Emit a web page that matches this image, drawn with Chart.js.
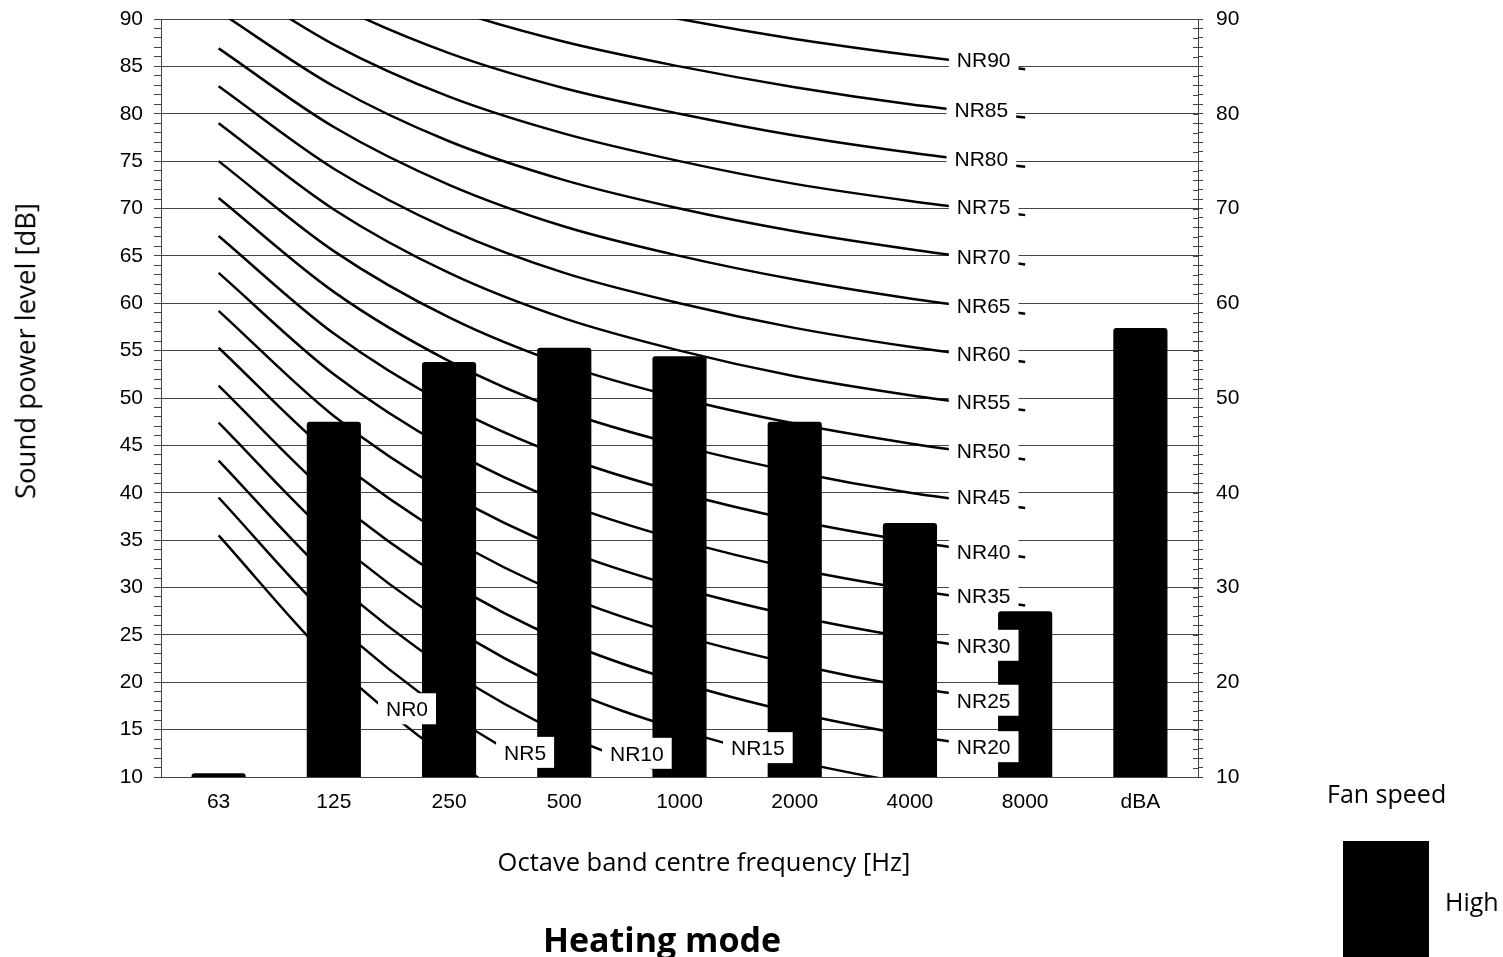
<!DOCTYPE html>
<html>
<head>
<meta charset="utf-8">
<script src="https://cdn.jsdelivr.net/npm/chart.js@4.4.1/dist/chart.umd.min.js"></script>
<style>
  html, body { margin: 0; padding: 0; background: #fff; }
  #wrap { position: relative; width: 1503px; height: 957px; overflow: hidden; }
  #chart { position: absolute; left: 0; top: 0; }
  .txt { position: absolute; font-family: "Open Sans", sans-serif; color: #000; white-space: nowrap; line-height: 1; }
</style>
</head>
<body>
<div id="wrap">
  <canvas id="chart" width="1503" height="957" style="width:1503px;height:957px"></canvas>
  <div class="txt" id="yTitle" style="left:25px;top:351px;font-size:27.5px;transform:translate(-50%,-50%) rotate(-90deg)">Sound power level [dB]</div>
  <div class="txt" id="xTitle" style="left:704px;top:862px;font-size:25.5px;transform:translate(-50%,-50%)">Octave band centre frequency [Hz]</div>
  <div class="txt" id="mode" style="left:662px;top:939px;font-size:34px;font-weight:700;transform:translate(-50%,-50%)">Heating mode</div>
  <div class="txt" style="left:1327px;top:793px;font-size:25px;transform:translateY(-50%)">Fan speed</div>
  <div style="position:absolute;left:1343px;top:841px;width:86px;height:116px;background:#000"></div>
  <div class="txt" style="left:1445px;top:901px;font-size:25px;transform:translateY(-50%)">High</div>
</div>
<script>
// octave bands + overall level
const categories = ['63', '125', '250', '500', '1000', '2000', '4000', '8000', 'dBA'];

// measured sound power, fan speed High
const soundPowerHigh = [10.4, 47.5, 53.8, 55.3, 54.4, 47.5, 36.8, 27.5, 57.4];

// NR rating curves (63 ... 8000 Hz)
const nr0  = [35.5, 22.0, 12.0, 4.8, 0, -3.5, -6.1, -8.0];
const nr5  = [39.5, 26.4, 16.7, 9.7, 5, 1.6, -1.0, -2.9];
const nr10 = [43.4, 30.7, 21.3, 14.5, 10, 6.7, 4.2, 2.3];
const nr15 = [47.4, 35.1, 26.0, 19.4, 15, 11.7, 9.3, 7.5];
const nr20 = [51.3, 39.4, 30.6, 24.3, 20, 16.8, 14.4, 12.6];
const nr25 = [55.3, 43.8, 35.3, 29.2, 25, 21.9, 19.5, 17.8];
const nr30 = [59.2, 48.1, 39.9, 34.0, 30, 27.0, 24.7, 22.9];
const nr35 = [63.2, 52.5, 44.6, 38.9, 35, 32.0, 29.8, 28.1];
const nr40 = [67.1, 56.8, 49.2, 43.8, 40, 37.1, 34.9, 33.2];
const nr45 = [71.1, 61.2, 53.9, 48.6, 45, 42.2, 40.0, 38.4];
const nr50 = [75.0, 65.5, 58.5, 53.5, 50, 47.3, 45.2, 43.5];
const nr55 = [79.0, 69.9, 63.2, 58.4, 55, 52.3, 50.3, 48.7];
const nr60 = [82.9, 74.2, 67.8, 63.2, 60, 57.4, 55.4, 53.8];
const nr65 = [86.9, 78.6, 72.5, 68.1, 65, 62.5, 60.5, 58.9];
const nr70 = [90.8, 82.9, 77.1, 73.0, 70, 67.6, 65.7, 64.1];
const nr75 = [94.8, 87.3, 81.8, 77.9, 75, 72.6, 70.8, 69.3];
const nr80 = [98.7, 91.6, 86.4, 82.7, 80, 77.7, 75.9, 74.4];
const nr85 = [102.7, 96.0, 91.1, 87.6, 85, 82.8, 81.0, 79.6];
const nr90 = [106.6, 100.3, 95.7, 92.5, 90, 87.9, 86.2, 84.7];

const nrLevels = [0, 5, 10, 15, 20, 25, 30, 35, 40, 45, 50, 55, 60, 65, 70, 75, 80, 85, 90];
const nrCurves = [nr0, nr5, nr10, nr15, nr20, nr25, nr30, nr35, nr40, nr45,
                  nr50, nr55, nr60, nr65, nr70, nr75, nr80, nr85, nr90];

// where each "NRxx" tag sits (category index, dB)
const nrLabelX = [1.635, 2.66, 3.63, 4.68, 6.64, 6.64, 6.64, 6.64, 6.64, 6.64,
                  6.64, 6.64, 6.64, 6.64, 6.64, 6.64, 6.62, 6.62, 6.64];
const nrLabelY = [17.2, 12.6, 12.5, 13.1, 13.2, 18.1, 23.9, 29.2, 33.8, 39.6,
                  44.5, 49.6, 54.7, 59.8, 64.9, 70.2, 75.3, 80.4, 85.7];

const FONT_FAMILY = '"Liberation Sans", Arial, sans-serif';
const X_TICK_FONT = { family: FONT_FAMILY, size: 21 };
// small lineHeight keeps the end labels from pushing the plot area down
const Y_TICK_FONT = { family: FONT_FAMILY, size: 21, lineHeight: 0.5 };
const AXIS_COLOR = '#444';

// white tagged NR names drawn on top of curves and bars
const nrTagPlugin = {
    id: 'nrTags',
    afterDatasetsDraw(chart) {
        const { ctx, scales: { x, y } } = chart;
        ctx.save();
        ctx.font = '21px ' + FONT_FAMILY;
        ctx.textAlign = 'center';
        ctx.textBaseline = 'alphabetic';
        nrLevels.forEach((n, i) => {
            const text = 'NR' + n;
            const px = x.getPixelForValue(nrLabelX[i]);
            const py = y.getPixelForValue(nrLabelY[i]);
            const w = ctx.measureText(text).width + 16;
            const h = 31;
            ctx.fillStyle = '#fff';
            ctx.fillRect(px - w / 2, py - h / 2, w, h);
            ctx.fillStyle = '#000';
            ctx.fillText(text, px, py + 7.5);
        });
        ctx.restore();
    }
};

// secondary axis ticks cross the axis line
const crossTickPlugin = {
    id: 'crossTicks',
    afterDraw(chart) {
        const { ctx, scales: { y2 } } = chart;
        const xr = chart.chartArea.right;
        ctx.save();
        ctx.strokeStyle = AXIS_COLOR;
        ctx.lineWidth = 1;
        ctx.beginPath();
        y2.ticks.forEach(t => {
            const py = Math.round(y2.getPixelForValue(t.value)) + 0.5;
            ctx.moveTo(xr - 5, py);
            ctx.lineTo(xr, py);
        });
        ctx.stroke();
        ctx.restore();
    }
};

const datasets = [{
    type: 'bar',
    label: 'High',
    data: soundPowerHigh,
    backgroundColor: '#000',
    borderRadius: 3,
    barPercentage: 0.47,
    categoryPercentage: 1,
    order: 0
}];

nrCurves.forEach((curve, i) => {
    datasets.push({
        type: 'line',
        label: 'NR' + nrLevels[i],
        data: curve,
        borderColor: '#000',
        borderWidth: 2.5,
        pointRadius: 0,
        fill: false,
        cubicInterpolationMode: 'monotone',
        clip: 0,
        order: 1
    });
});

new Chart(document.getElementById('chart'), {
    type: 'bar',
    data: { labels: categories, datasets },
    options: {
        responsive: false,
        animation: false,
        layout: { padding: { left: 0, right: 245, top: 19, bottom: 0 } },
        plugins: {
            legend: { display: false },
            tooltip: { enabled: false }
        },
        scales: {
            x: {
                grid: { display: false, drawTicks: false },
                border: { display: false },
                ticks: { color: '#000', font: X_TICK_FONT, padding: 13, maxRotation: 0 },
                afterFit(scale) { scale.height = 180; }
            },
            y: {
                position: 'left',
                min: 10,
                max: 90,
                ticks: {
                    stepSize: 1,
                    autoSkip: false,
                    color: '#000',
                    font: Y_TICK_FONT,
                    padding: 11,
                    callback: v => (v % 5 === 0 ? v : '')
                },
                grid: {
                    color: ctx => (ctx.tick && ctx.tick.value % 5 === 0 ? AXIS_COLOR : 'rgba(0,0,0,0)'),
                    tickColor: AXIS_COLOR,
                    tickLength: 7,
                    lineWidth: 1
                },
                border: { display: true, color: AXIS_COLOR, width: 1 },
                afterFit(scale) { scale.width = 161; }
            },
            y2: {
                position: 'right',
                min: 10,
                max: 90,
                ticks: {
                    stepSize: 1,
                    autoSkip: false,
                    color: '#000',
                    font: Y_TICK_FONT,
                    padding: 13,
                    callback: v => (v % 10 === 0 ? v : '')
                },
                grid: {
                    drawOnChartArea: false,
                    tickColor: AXIS_COLOR,
                    tickLength: 5,
                    lineWidth: 1
                },
                border: { display: true, color: AXIS_COLOR, width: 1 },
                afterFit(scale) { scale.width = 60; }
            }
        }
    },
    plugins: [nrTagPlugin, crossTickPlugin]
});
</script>
</body>
</html>
